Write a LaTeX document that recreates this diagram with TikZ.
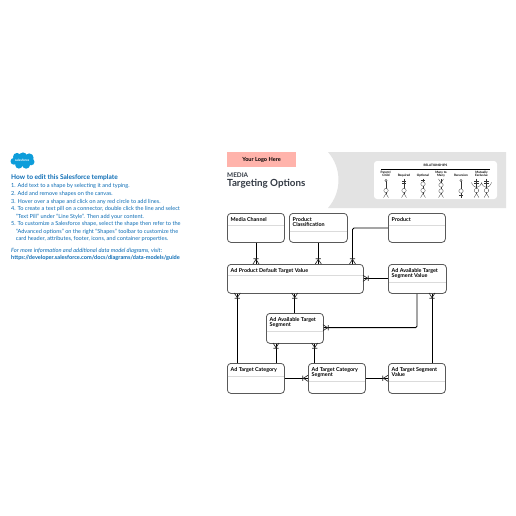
\documentclass[tikz,border=0pt]{standalone}
\usepackage{fontspec}
\setmainfont{Lato}
\definecolor{sfblue}{HTML}{0B6CB5}
\definecolor{cloud}{HTML}{0D9DDA}
\definecolor{band}{HTML}{E3E3E3}
\definecolor{pill}{HTML}{FFB3AB}
\definecolor{ink}{HTML}{333A44}
\tikzset{
 ent/.style={draw=black!65,line width=.8pt,rounded corners=3.5pt,fill=white,inner sep=0pt},
 enttext/.style={font=\bfseries\fontsize{5.4}{5.1}\selectfont,align=left,anchor=north west,inner sep=0pt},
 conn/.style={draw=black,line width=.95pt,rounded corners=1.5pt},
 guide/.style={font=\fontsize{5.6}{7.4}\selectfont,text=sfblue,anchor=west,inner sep=0pt},
 leg/.style={draw=black!80,line width=.28pt},
 legt/.style={font=\bfseries\fontsize{3.1}{3.5}\selectfont,align=center,inner sep=0pt},
}
\newcommand{\entity}[7]{%
 \node[ent,minimum width=#4pt-#2pt,minimum height=#5pt-#3pt,anchor=north west] (#1) at (#2,#3) {};
 \draw[black!14,line width=.6pt] (#2+.5,#7) -- (#4-.5,#7);
 \node[enttext] (#1t) at (#2+3.5,#3+4.5) {#6};
}
% crow foot: x y ux uy, (ux,uy) points from the entity outward
\newcommand{\crow}[4]{%
 \draw[black!85,line width=.65pt] (#1+3*#4,#2+3*#3) -- (#1+4.6*#3,#2+4.6*#4) -- (#1-3*#4,#2-3*#3)
   (#1+5.2*#3+2.6*#4,#2+5.2*#4+2.6*#3) -- (#1+5.2*#3-2.6*#4,#2+5.2*#4-2.6*#3);
}
\newcommand{\lcirc}[3]{\draw[leg,fill=white] (#1,#2) circle (#3);}
\newcommand{\lbar}[2]{\draw[leg] (#1-2.2,#2) -- (#1+2.2,#2);}
\newcommand{\lfootdown}[1]{\draw[leg] (#1-2.4,197.5) -- (#1,193.5) -- (#1+2.4,197.5);}
\begin{document}
\begin{tikzpicture}[x=1pt,y=-1pt]
\useasboundingbox (0,0) rectangle (516,516);
\fill[white] (0,0) rectangle (516,516);
% header band
\fill[band] (328,152) .. controls (342,168) and (342,192) .. (328,208) -- (506,208) -- (506,152) -- cycle;
\fill[white,rounded corners=3pt] (374,161) rectangle (497,199);
\fill[pill] (227,152) rectangle (296,167);
\node[font=\bfseries\fontsize{5.6}{6}\selectfont,inner sep=0pt] (logo) at (261.5,160) {Your Logo Here};
\node[font=\bfseries\fontsize{6.4}{6}\selectfont,text=ink,anchor=west,inner sep=0pt] (media) at (227,175) {MEDIA};
\node[font=\bfseries\fontsize{9.8}{10}\selectfont,text=ink,anchor=west,inner sep=0pt] (title) at (227,184) {Targeting Options};
% guide
\begin{scope}[shift={(22.5,160.5)}]
\fill[cloud] (0,0.2) ellipse (9.5 and 5.5) (-8.6,0.8) circle (3.4) (-5.5,-3.6) circle (4) (0.5,-4.2) circle (3.9) (6.7,-2.7) circle (4.4) (8.6,1.4) circle (3.4) (3.6,4.2) circle (4) (-3.6,4.4) circle (3.7);
\node[font=\bfseries\fontsize{3.2}{4}\selectfont,text=white,inner sep=0pt] (sf) at (-.3,0) {salesforce};
\end{scope}
\node[guide,font=\bfseries\fontsize{6.6}{6}\selectfont] (g0) at (11,178) {How to edit this Salesforce template};
\node[guide] (g1) at (11,186.3) {1. Add text to a shape by selecting it and typing.};
\node[guide] (g2) at (11,194) {2. Add and remove shapes on the canvas.};
\node[guide] (g3) at (11,201.7) {3. Hover over a shape and click on any red circle to add lines.};
\node[guide] (g4) at (11,209) {4. To create a text pill on a connector, double click the line and select};
\node[guide] (g4b) at (15.7,216.7) {“Text Pill” under “Line Style”. Then add your content.};
\node[guide] (g5) at (11,224.3) {5. To customize a Salesforce shape, select the shape then refer to the};
\node[guide] (g5b) at (15.7,232) {“Advanced options” on the right “Shapes” toolbar to customize the};
\node[guide] (g5c) at (15.7,239.3) {card header, attributes, footer, icons, and container properties.};
\node[guide,font=\itshape\fontsize{5.75}{6}\selectfont] (g6) at (11,250.7) {For more information and additional data model diagrams, visit:};
\node[guide,font=\bfseries\fontsize{5.6}{6}\selectfont] (g7) at (11,258) {https://developer.salesforce.com/docs/diagrams/data-models/guide};
% entities
\entity{mc}{227}{213}{284}{242}{Media Channel}{225.5}
\entity{pc}{289}{213}{347}{242}{Product\\Classification}{231.5}
\entity{pr}{388}{213}{445}{242}{Product}{225.5}
\entity{dv}{227}{264}{363}{293}{Ad Product Default Target Value}{275.5}
\entity{asv}{388}{264}{446}{293}{Ad Available Target\\Segment Value}{282}
\entity{as}{266}{313}{323}{343}{Ad Available Target\\Segment}{331.5}
\entity{tc}{227}{363}{284}{393}{Ad Target Category}{376}
\entity{tcs}{308}{363}{365}{393}{Ad Target Category\\Segment}{381.5}
\entity{tsv}{388}{363}{445}{393}{Ad Target Segment\\Value}{381.5}
% connectors
\coordinate (a1) at (256,264); \coordinate (a2) at (318.3,264); \coordinate (a3) at (352.5,264);
\draw[conn] (mc.south -| a1) -- (dv.north -| a1);
\draw[conn] (pc.south -| a2) -- (dv.north -| a2);
\draw[conn] (pr.west |- 0,228) -- (352.5,228) -- (dv.north -| a3);
\draw[conn] (asv.west |- 0,278.3) -- (dv.east |- 0,278.3);
\coordinate (b1) at (237.3,0); \coordinate (b2) at (294.7,0);\coordinate (b3) at (417,0); \coordinate (b4) at (432,0);
\draw[conn] (tc.north -| b1) -- (dv.south -| b1);
\draw[conn] (as.north -| b2) -- (dv.south -| b2);
\draw[conn] (asv.south -| b3) -- (417,327.7) -- (as.east |- 0,327.7);
\draw[conn] (tsv.north -| b4) -- (asv.south -| b4);
\coordinate (c1) at (276,0); \coordinate (c2) at (314.7,0);
\draw[conn] (tc.north -| c1) -- (as.south -| c1);
\draw[conn] (tcs.north -| c2) -- (as.south -| c2);
\draw[conn] (tc.east |- 0,378.3) -- (tcs.west |- 0,378.3);
\draw[conn] (tsv.west |- 0,378.3) -- (tcs.east |- 0,378.3);
% crow feet
\crow{256}{264}{0}{-1}\crow{318.3}{264}{0}{-1}\crow{352.5}{264}{0}{-1}
\crow{363}{278.3}{1}{0}
\crow{237.3}{293}{0}{1}\crow{294.7}{293}{0}{1}\crow{432}{293}{0}{1}
\crow{323}{327.7}{1}{0}
\crow{276}{343}{0}{1}\crow{314.7}{343}{0}{1}
\crow{308}{378.3}{-1}{0}\crow{388}{378.3}{-1}{0}
% legend
\node[legt] (lt) at (435.5,165.5) {RELATIONSHIPS};
\draw[black,line width=.5pt] (381,169) -- (490,169);
\node[legt] (l1) at (386,174) {Parent/\\Child};
\node[legt] (l2) at (404,175.5) {Required};
\node[legt] (l3) at (423,175.5) {Optional};
\node[legt] (l4) at (441,174) {Many to\\Many};
\node[legt] (l5) at (461,175.5) {Recursion};
\node[legt] (l6) at (481.5,174) {Mutually\\Exclusive};
% col 1
\draw[leg] (386,181) -- (386,194);
\lcirc{386}{180.5}{1.1}\lcirc{386}{190.5}{2.2}\lfootdown{386}
% col 2
\draw[leg] (404,178.5) -- (404,194);
\lbar{404}{181}\lbar{404}{183.5}\lcirc{404}{190.5}{2.2}\lfootdown{404}
% col 3
\draw[leg] (423,178.5) -- (423,194);
\lbar{423}{180.5}\lcirc{423}{184}{2.2}\lcirc{423}{190.5}{2.2}\lfootdown{423}
% col 4
\draw[leg] (441,179) -- (441,194);
\draw[leg] (438.6,179) -- (441,183) -- (443.4,179);
\lcirc{441}{185}{2.2}\lcirc{441}{191}{2.2}\lfootdown{441}
% col 5
\draw[leg] (461,180) -- (461,197.5);
\lcirc{461}{180.5}{1.1}\lcirc{461}{191}{2.2}\lbar{461}{195.5}
% col 6
\draw[leg] (476.5,178.5) -- (476.5,194) (486.5,178.5) -- (486.5,194);
\lbar{476.5}{181}\lbar{476.5}{183.5}\lbar{486.5}{181}\lbar{486.5}{183.5}
\draw[leg] (471.5,182.5) .. controls (472.5,186) and (475,187) .. (476.5,187.5) (481.5,182.5) .. controls (481,186) and (478,187) .. (476.5,187.5) (481.5,182.5) .. controls (482,186) and (485,187) .. (486.5,187.5) (491.5,182.5) .. controls (490.5,186) and (488,187) .. (486.5,187.5);
\lcirc{476.5}{190.5}{2.2}\lcirc{486.5}{190.5}{2.2}\lfootdown{476.5}\lfootdown{486.5}
\end{tikzpicture}
\end{document}
